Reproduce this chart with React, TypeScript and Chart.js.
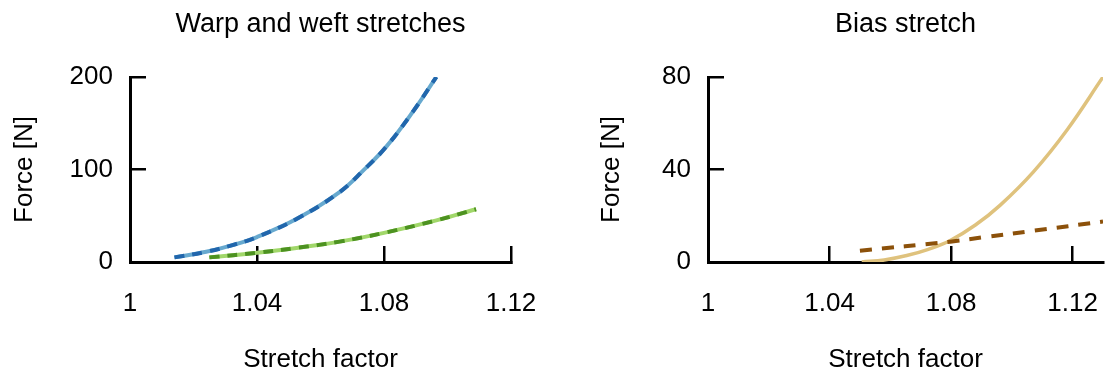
import React, { useEffect, useRef } from "react";
import { Chart, registerables } from "chart.js";

Chart.register(...registerables);

// ---- Data ----
const warpX = [1.014, 1.024, 1.032, 1.04, 1.053, 1.066, 1.0735, 1.0808, 1.089, 1.0965];
const warpY = [5, 11, 18, 27, 47.5, 75.5, 99, 125, 162, 200];
const warpFitX = [1.014, 1.024, 1.032, 1.04, 1.053, 1.066, 1.0735, 1.0808, 1.089, 1.0965];
const warpFitY = [5, 11, 18, 27, 47.5, 75.5, 99, 125, 162, 200];

const weftX = [1.025, 1.04, 1.053, 1.066, 1.08, 1.0965, 1.109];
const weftY = [5, 10, 15.5, 22, 31.5, 45, 57];
const weftFitX = [1.025, 1.04, 1.053, 1.066, 1.08, 1.0965, 1.109];
const weftFitY = [5, 10, 15.5, 22, 31.5, 45, 57];

const biasX = [1.0506, 1.058, 1.0654, 1.0725, 1.0797, 1.088, 1.0961, 1.1071, 1.1181, 1.13];
const biasY = [0, 0.9, 2.8, 5.5, 9.3, 16, 24.5, 39, 57, 80];
const biasFitX = [1.05, 1.0797, 1.0918, 1.107, 1.13];
const biasFitY = [4.9, 8.8, 10.9, 13.5, 17.5];

const xTicks = [1, 1.04, 1.08, 1.12];
const leftYTicks = [0, 100, 200];
const rightYTicks = [0, 40, 80];

const leftTitle = "Warp and weft stretches";
const rightTitle = "Bias stretch";
const xTitle = "Stretch factor";
const yTitle = "Force [N]";

const FONT = "'Liberation Sans', Arial, Helvetica, sans-serif";
const FS = 26;
const TFS = 27;

const pts = (xs: number[], ys: number[]) => xs.map((x, i) => ({ x, y: ys[i] }));

function buildOptions(cfg: {
  title: string;
  xMax: number;
  yMax: number;
  yTicks: number[];
  yWidth: number;
  yTitlePad: number;
  padRight: number;
}): any {
  return {
    responsive: false,
    animation: false,
    maintainAspectRatio: false,
    layout: { padding: { left: 0, right: cfg.padRight, top: 0, bottom: 0 } },
    plugins: {
      legend: { display: false },
      tooltip: { enabled: false },
      title: {
        display: true,
        text: cfg.title,
        fullSize: false,
        color: "#000",
        font: { family: FONT, size: TFS, weight: "normal" },
        padding: { top: 8.3, bottom: 36.3 },
      },
    },
    elements: { point: { radius: 0 }, line: { tension: 0.4 } },
    scales: {
      x: {
        type: "linear",
        min: 1,
        max: cfg.xMax,
        afterBuildTicks: (s: any) => {
          s.ticks = xTicks.map((v) => ({ value: v }));
        },
        afterFit: (s: any) => {
          s.height = 110;
          s.paddingLeft = 0;
          s.paddingRight = 0;
        },
        ticks: {
          color: "#000",
          font: { family: FONT, size: FS },
          padding: 42.4,
          maxRotation: 0,
          callback: (v: any) => String(v),
        },
        grid: {
          drawOnChartArea: false,
          drawTicks: true,
          tickLength: -16,
          color: "#000",
          lineWidth: 2.5,
        },
        border: { display: true, color: "#000", width: 3 },
        title: {
          display: true,
          text: xTitle,
          color: "#000",
          font: { family: FONT, size: FS },
          padding: { top: 0, bottom: -3 },
        },
      },
      y: {
        type: "linear",
        min: 0,
        max: cfg.yMax,
        afterBuildTicks: (s: any) => {
          s.ticks = cfg.yTicks.map((v) => ({ value: v }));
        },
        afterFit: (s: any) => {
          s.width = cfg.yWidth;
          s.paddingTop = 0;
          s.paddingBottom = 0;
        },
        ticks: {
          color: "#000",
          font: { family: FONT, size: FS },
          padding: 33,
        },
        grid: {
          drawOnChartArea: false,
          drawTicks: true,
          tickLength: -16,
          color: "#000",
          lineWidth: 2.5,
        },
        border: { display: true, color: "#000", width: 3 },
        title: {
          display: true,
          text: yTitle,
          color: "#000",
          font: { family: FONT, size: FS },
          padding: { top: cfg.yTitlePad, bottom: 0 },
        },
      },
    },
  };
}

function LeftChart() {
  const ref = useRef<HTMLCanvasElement>(null);
  useEffect(() => {
    if (!ref.current) return;
    const chart = new Chart(ref.current, {
      type: "line",
      data: {
        datasets: [
          {
            data: pts(warpX, warpY),
            borderColor: "#67a9cf",
            borderWidth: 4,
            fill: false,
            order: 2,
          },
          {
            data: pts(warpFitX, warpFitY),
            borderColor: "#2166ac",
            borderWidth: 4,
            borderDash: [10, 8],
            fill: false,
            order: 1,
          },
          {
            data: pts(weftX, weftY),
            borderColor: "#a1d76a",
            borderWidth: 4,
            fill: false,
            order: 2,
          },
          {
            data: pts(weftFitX, weftFitY),
            borderColor: "#4d9221",
            borderWidth: 4,
            borderDash: [10, 8],
            fill: false,
            order: 1,
          },
        ],
      } as any,
      options: buildOptions({
        title: leftTitle,
        xMax: 1.12,
        yMax: 200,
        yTicks: leftYTicks,
        yWidth: 130,
        yTitlePad: 9.4,
        padRight: 29,
      }),
    });
    return () => chart.destroy();
  }, []);
  return <canvas ref={ref} width={540} height={372} style={{ display: "block" }} />;
}

function RightChart() {
  const ref = useRef<HTMLCanvasElement>(null);
  useEffect(() => {
    if (!ref.current) return;
    const chart = new Chart(ref.current, {
      type: "line",
      data: {
        datasets: [
          {
            data: pts(biasX, biasY),
            borderColor: "#dfc27d",
            borderWidth: 3.5,
            fill: false,
            order: 2,
          },
          {
            data: pts(biasFitX, biasFitY),
            borderColor: "#8c510a",
            borderWidth: 4,
            borderDash: [12, 10],
            fill: false,
            order: 1,
          },
        ],
      } as any,
      options: buildOptions({
        title: rightTitle,
        xMax: 1.13,
        yMax: 80,
        yTicks: rightYTicks,
        yWidth: 148,
        yTitlePad: 36.4,
        padRight: 4,
      }),
    });
    return () => chart.destroy();
  }, []);
  return <canvas ref={ref} width={547} height={372} style={{ display: "block" }} />;
}

export default function App() {
  return (
    <div style={{ position: "absolute", left: 0, top: 0, width: 1107, height: 372, background: "#fff" }}>
      <div style={{ position: "absolute", left: 0, top: 0 }}>
        <LeftChart />
      </div>
      <div style={{ position: "absolute", left: 560, top: 0 }}>
        <RightChart />
      </div>
    </div>
  );
}
